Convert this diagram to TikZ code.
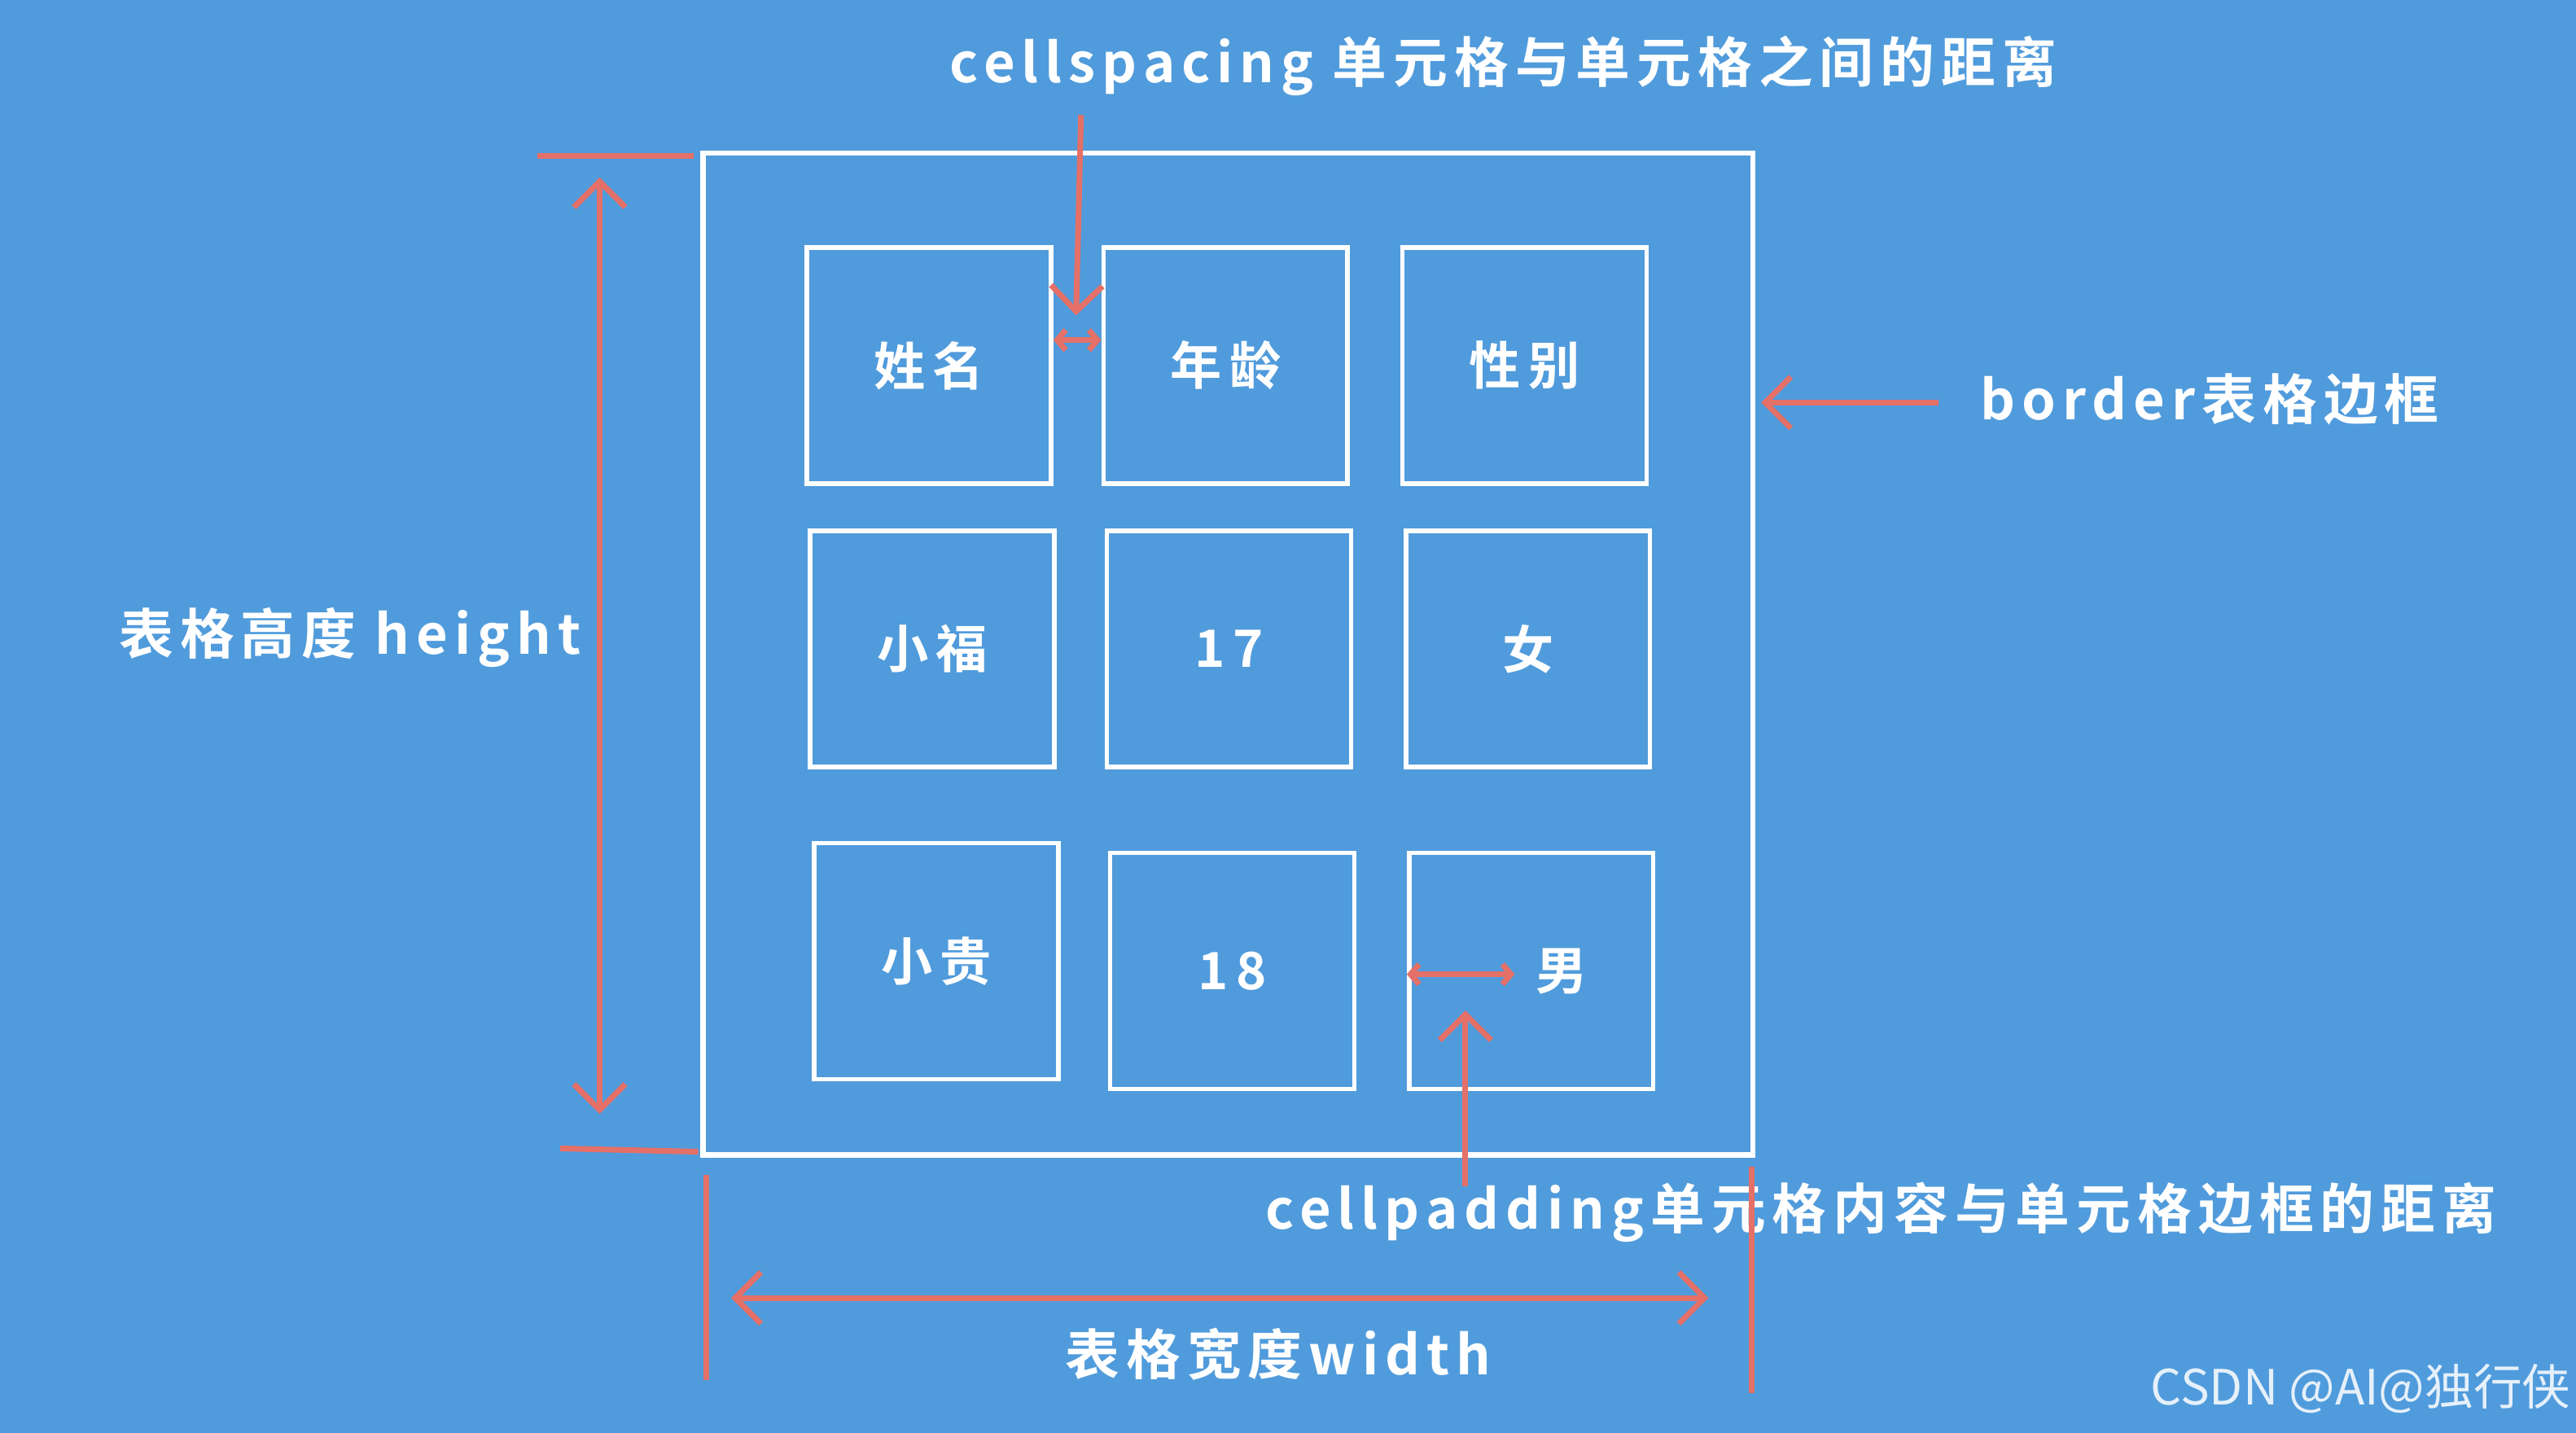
\documentclass[tikz,border=0pt]{standalone}
\usepackage{fontspec}
\setmainfont{Noto Sans CJK SC}[BoldFont={* Bold}]
\usetikzlibrary{arrows.meta}
\definecolor{bg}{RGB}{80,155,220}
\definecolor{mark}{RGB}{228,112,104}

\begin{document}
\begin{tikzpicture}[x=0.02018cm,y=-0.02018cm,
		>={Straight Barb[length=9pt,width=18pt]},
		cell/.style={draw=white, line width=1.6pt, minimum width=3cm, minimum height=2.9cm, inner sep=0pt, text=white, font=\bfseries\fontsize{18}{20}\selectfont\addfontfeature{LetterSpace=15}},
		note/.style={text=white, font=\bfseries\fontsize{19}{23}\selectfont\addfontfeature{LetterSpace=12}, inner sep=0pt},
		dim/.style={draw=mark, line width=2pt},
		small/.style={{Straight Barb[length=3pt,width=7pt]}-{Straight Barb[length=3pt,width=7pt]}}]
		\fill[bg] (0,0) rectangle (1568,872);
		\useasboundingbox (0,0) rectangle (1568,872);
		\node (tab) [draw=white, line width=1.8pt, minimum width=12.9cm, minimum height=12.31cm] at (747.5,398) {};
		\node (c11) [cell] at (565.5,222.5) {姓名};
		\node (c12) [cell] at (746,222.5) {年龄};
		\node (c13) [cell] at (928,222.5) {性别};
		\node (c21) [cell] at (567.5,395) {小福};
		\node (c22) [cell] at (748,395) {17};
		\node (c23) [cell] at (930,395) {女};
		\node (c31) [cell] at (570,585) {小贵};
		\node (c32) [cell] at (750,591) {18};
		\node (c33) [cell] at (932,591) {\hspace{1.2em}男};
		% labels
		\node (lspace) [note] at (915,40) {cellspacing 单元格与单元格之间的距离};
		\node (lborder) [note] at (1345,243) {border表格边框};
		\node (lheight) [note] at (213,388) {表格高度 height};
		\node (lwidth) [note] at (778,824) {表格宽度width};
		\node (lpad) [note] at (1145,738) {cellpadding单元格内容与单元格边框的距离};
		\node (wm) [text=white!85!bg, font=\fontsize{17}{20}\selectfont, inner sep=0pt] at (1437,845) {CSDN @AI@独行侠};
		% arrows
		\coordinate (sp) at (658,70);
		\coordinate (bd) at (1180,245);
		\coordinate (pd) at (892,722);
		\draw[dim,->] (sp) -- (655,192);
		\draw[dim,small] (c11.east |- 0,207) -- (c12.west |- 0,207);
		\draw[dim,->] (bd) -- (1072,245);
		\draw[dim,->] (pd) -- (892,615);
		\draw[dim,small] (c33.west |- 0,593) -- (922,593);
		% dimension lines
		\draw[dim] (327,95) -- (422,95);
		\draw[dim] (341,699) -- (425,701);
		\draw[dim,<->] (365,108) -- (365,678);
		\draw[dim] (430,715) -- (430,840);
		\draw[dim] (1066,710) -- (1066,848);
		\draw[dim,<->] (445,790) -- (1040,790);
	\end{tikzpicture}
\end{document}
